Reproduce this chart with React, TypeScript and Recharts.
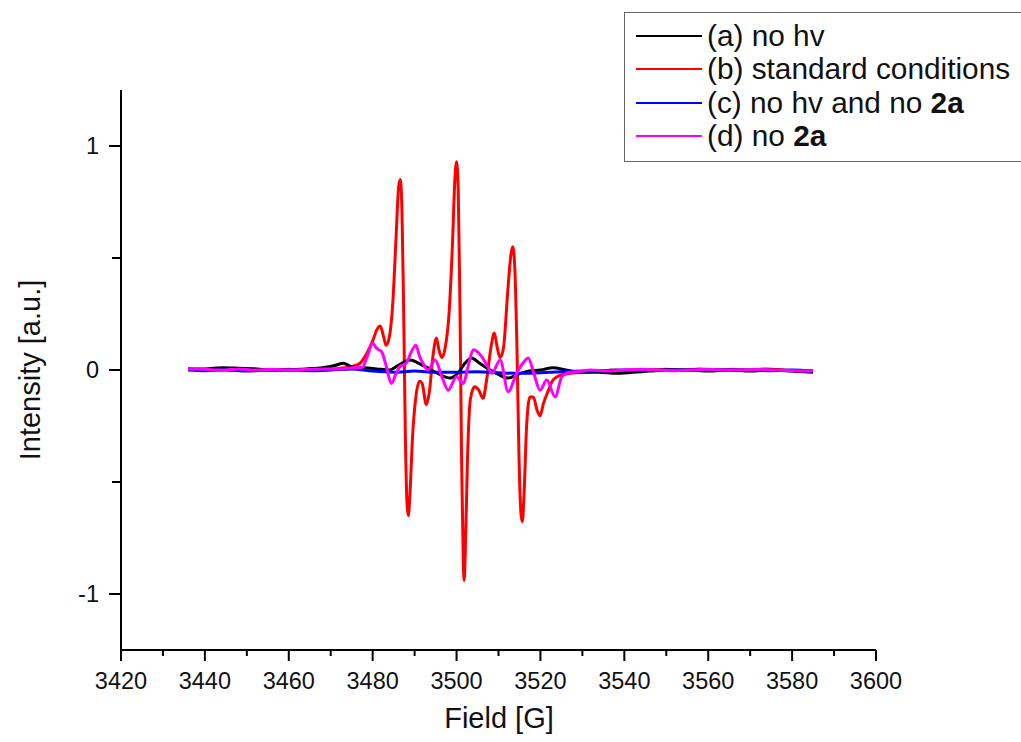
import React from 'react';
import { LineChart, Line, XAxis, YAxis, Label } from 'recharts';

// field [G] / intensity [a.u.]
const fieldA = [3436, 3440, 3444, 3448, 3452, 3456, 3460, 3464, 3468, 3471, 3473, 3475, 3478, 3481, 3484, 3486, 3489, 3491, 3494, 3496, 3498.4, 3500.5, 3502, 3503.6, 3505.5, 3508, 3510, 3512.3, 3514.5, 3517, 3520, 3523, 3526, 3530, 3534, 3538, 3542, 3546, 3550, 3555, 3560, 3565, 3570, 3575, 3580, 3585];
const intensityA = [0.005, 0.005, 0.01, 0.008, 0.005, 0, 0, 0.005, 0.01, 0.02, 0.03, 0.015, 0.01, 0.005, 0, 0.02, 0.045, 0.03, 0, -0.02, -0.036, -0.01, 0.03, 0.054, 0.03, 0, -0.02, -0.036, -0.02, -0.005, 0, 0.01, 0, -0.01, -0.01, -0.015, -0.01, -0.005, 0, 0, -0.005, 0, -0.005, 0, -0.005, -0.01];

const fieldB = [3436, 3440, 3444, 3448, 3452, 3456, 3460, 3464, 3468, 3471, 3473, 3475, 3477, 3478.5, 3480, 3481, 3481.8, 3482.6, 3483.2, 3484, 3484.8, 3485.6, 3486.2, 3486.6, 3487, 3487.4, 3487.8, 3488.2, 3488.5, 3488.9, 3489.5, 3490.3, 3491.2, 3491.8, 3492.8, 3493.5, 3494.3, 3495.2, 3495.8, 3496.5, 3497.3, 3498.2, 3499, 3499.6, 3500, 3500.4, 3500.8, 3501.2, 3501.6, 3501.8, 3502.1, 3502.6, 3503.3, 3504.3, 3505.3, 3506.3, 3507.2, 3508.2, 3509, 3509.7, 3510.4, 3511.2, 3512.2, 3513, 3513.4, 3513.9, 3514.4, 3514.9, 3515.4, 3515.7, 3516.1, 3516.7, 3517.5, 3518.3, 3519.2, 3519.9, 3520.7, 3521.7, 3522.8, 3524, 3525.5, 3527, 3530, 3534, 3538, 3542, 3546, 3550, 3554, 3558, 3562, 3566, 3570, 3574, 3578, 3582, 3585];
const intensityB = [0.005, 0, 0.005, 0, 0.005, 0, 0.003, 0, 0.005, 0.005, 0.01, 0.015, 0.03, 0.07, 0.13, 0.18, 0.196, 0.15, 0.11, 0.15, 0.3, 0.6, 0.82, 0.85, 0.7, 0.25, -0.3, -0.6, -0.65, -0.55, -0.3, -0.12, -0.05, -0.06, -0.155, -0.1, 0.05, 0.143, 0.09, 0.055, 0.1, 0.25, 0.55, 0.85, 0.93, 0.8, 0.3, -0.4, -0.85, -0.94, -0.8, -0.4, -0.13, -0.075, -0.09, -0.126, -0.04, 0.1, 0.165, 0.1, 0.055, 0.1, 0.35, 0.52, 0.55, 0.45, 0.1, -0.4, -0.65, -0.677, -0.55, -0.25, -0.12, -0.12, -0.18, -0.205, -0.15, -0.1, -0.05, -0.03, -0.02, -0.015, -0.01, -0.005, 0, -0.005, 0, 0.003, 0, 0.005, 0, 0.003, 0, 0.005, 0, -0.005, -0.005];

const fieldC = [3436, 3440, 3445, 3450, 3455, 3460, 3465, 3470, 3475, 3480, 3485, 3490, 3495, 3500, 3505, 3510, 3515, 3520, 3525, 3530, 3535, 3540, 3545, 3550, 3555, 3560, 3565, 3570, 3575, 3580, 3585];
const intensityC = [0, -0.003, 0, -0.005, 0, 0, -0.003, 0, 0.005, -0.005, -0.01, -0.005, -0.01, -0.01, -0.008, -0.012, -0.015, -0.012, -0.008, -0.005, -0.003, 0, -0.002, 0, 0, 0.002, 0, 0, -0.003, 0, -0.005];

const fieldD = [3436, 3440, 3444, 3448, 3452, 3456, 3460, 3464, 3468, 3472, 3475, 3477.5, 3478.7, 3480, 3480.8, 3481.5, 3482.2, 3483.2, 3484.5, 3485.5, 3486.5, 3488, 3489.2, 3490.3, 3491.2, 3492, 3493.2, 3494.9, 3496.5, 3498, 3500, 3501.6, 3502.8, 3504, 3506, 3507.3, 3508.4, 3510.4, 3512.3, 3514.3, 3515.8, 3517.1, 3518.5, 3519.9, 3521.5, 3523.5, 3525.1, 3527, 3529, 3532, 3536, 3540, 3544, 3548, 3552, 3556, 3560, 3564, 3568, 3572, 3576, 3580, 3585];
const intensityD = [0.005, 0.003, 0, 0.005, 0, 0.003, 0, 0.003, 0.005, 0.005, 0.01, 0.012, 0.06, 0.12, 0.1, 0.09, 0.08, 0.02, -0.06, -0.02, 0.015, 0.03, 0.08, 0.11, 0.06, 0.03, 0, 0.045, -0.03, -0.09, -0.03, -0.06, 0.02, 0.09, 0.06, 0.02, -0.015, 0.045, -0.097, -0.015, 0.03, 0.054, -0.02, -0.09, -0.045, -0.12, -0.03, -0.01, -0.008, 0, -0.005, 0, 0.003, 0, -0.003, 0, 0.003, 0, 0, 0.003, 0, -0.003, -0.005];

const xTicks = [3420, 3430, 3440, 3450, 3460, 3470, 3480, 3490, 3500, 3510, 3520, 3530, 3540, 3550, 3560, 3570, 3580, 3590, 3600];
const yTicks = [-1, -0.5, 0, 0.5, 1];

const seriesNames = ['(a) no hv', '(b) standard conditions', '(c) no hv and no ', '(d) no '];
const seriesBold = ['', '', '2a', '2a'];
const seriesColors = ['#000000', '#ff0000', '#0000ff', '#ff00ff'];

const toPoints = (xs: number[], ys: number[]) => xs.map((f, i) => ({ field: f, value: ys[i] }));
const series = [
  toPoints(fieldA, intensityA),
  toPoints(fieldB, intensityB),
  toPoints(fieldC, intensityC),
  toPoints(fieldD, intensityD),
];
// red underneath, then black, blue, magenta on top
const drawOrder = [1, 0, 2, 3];

const FONT = '"Liberation Sans", Arial, sans-serif';

function XTick(props: any) {
  const { x, y, payload } = props;
  const v = payload.value;
  const major = v % 20 === 0;
  return (
    <g>
      <line x1={x} x2={x} y1={y} y2={y + (major ? 11 : 6)} stroke="#000" strokeWidth={2} />
      {major && (
        <text x={x} y={y + 39} textAnchor="middle" fontSize={23.5} fontFamily={FONT} fill="#111">
          {v}
        </text>
      )}
    </g>
  );
}

function YTick(props: any) {
  const { x, y, payload } = props;
  const v = payload.value;
  const major = Number.isInteger(v);
  return (
    <g>
      <line x1={x} x2={x - (major ? 12 : 9)} y1={y} y2={y} stroke="#000" strokeWidth={2} />
      {major && (
        <text x={x - 22} y={y + 8} textAnchor="end" fontSize={23.5} fontFamily={FONT} fill="#111">
          {v}
        </text>
      )}
    </g>
  );
}

function LegendBox() {
  return (
    <div
      style={{
        position: 'absolute',
        left: 624,
        top: 12,
        width: 398,
        height: 150,
        boxSizing: 'border-box',
        border: '1.5px solid #666',
        background: '#fff',
        padding: '6px 0 0 11px',
        fontFamily: FONT,
        fontSize: 29.8,
        color: '#111',
      }}
    >
      {seriesNames.map((n, i) => (
        <div key={n} style={{ display: 'flex', alignItems: 'center', height: 33.5, whiteSpace: 'nowrap' }}>
          <span style={{ display: 'inline-block', width: 66, height: 2, background: seriesColors[i], marginRight: 5 }} />
          <span>
            {n}
            {seriesBold[i] && <b>{seriesBold[i]}</b>}
          </span>
        </div>
      ))}
    </div>
  );
}

export default function App() {
  return (
    <div style={{ position: 'absolute', left: 0, top: 0, width: 1021, height: 742, background: '#fff', overflow: 'hidden' }}>
      <LineChart width={1021} height={742} margin={{ top: 90, right: 145, bottom: 0, left: 0 }}>
        <XAxis
          type="number"
          dataKey="field"
          domain={[3420, 3600]}
          ticks={xTicks}
          allowDataOverflow
          height={92}
          tickSize={0}
          tickMargin={0}
          tickLine={false}
          tick={<XTick />}
          axisLine={{ stroke: '#000', strokeWidth: 2 }}
          interval={0}
        >
          <Label
            content={() => (
              <text x={499} y={728} textAnchor="middle" fontSize={29} fontFamily={FONT} fill="#111">
                Field [G]
              </text>
            )}
          />
        </XAxis>
        <YAxis
          type="number"
          dataKey="value"
          domain={[-1.25, 1.25]}
          ticks={yTicks}
          allowDataOverflow
          width={121}
          tickSize={0}
          tickMargin={0}
          tickLine={false}
          tick={<YTick />}
          axisLine={{ stroke: '#000', strokeWidth: 2 }}
          interval={0}
        >
          <Label
            content={() => (
              <text
                x={30}
                y={370}
                transform="rotate(-90 30 370)"
                textAnchor="middle"
                dominantBaseline="central"
                fontSize={29}
                fontFamily={FONT}
                fill="#111"
              >
                Intensity [a.u.]
              </text>
            )}
          />
        </YAxis>
        {drawOrder.map((i) => (
          <Line
            key={seriesNames[i]}
            data={series[i]}
            dataKey="value"
            name={seriesNames[i] + seriesBold[i]}
            type="monotone"
            stroke={seriesColors[i]}
            strokeWidth={3}
            dot={false}
            activeDot={false}
            isAnimationActive={false}
          />
        ))}
      </LineChart>
      <LegendBox />
    </div>
  );
}
